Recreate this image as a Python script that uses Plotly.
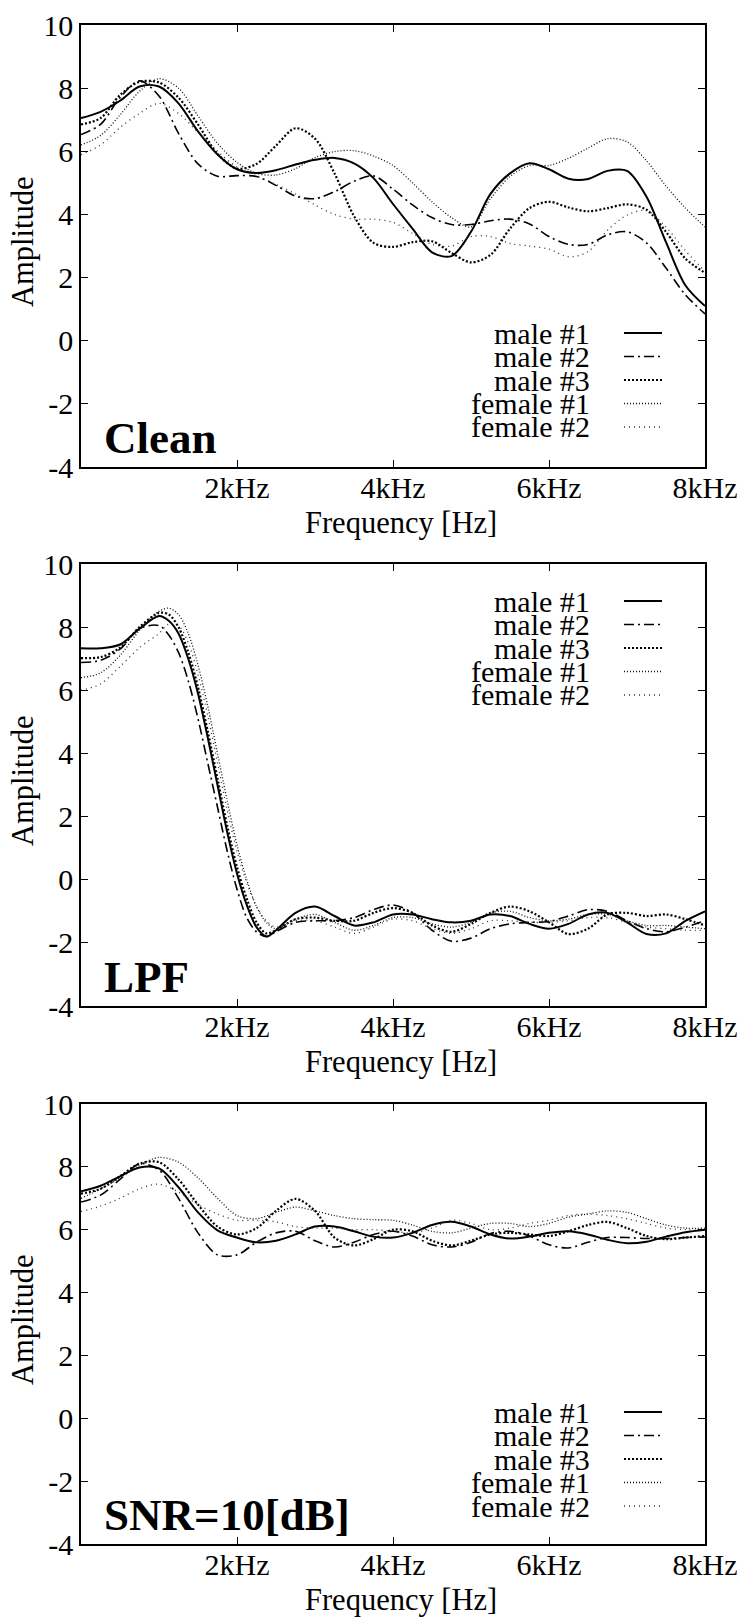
import plotly.graph_objects as go

# ---------------- data ----------------
FREQ = [0, 250, 500, 750, 1000, 1250, 1500, 1750, 2000, 2250, 2500, 2750, 3000, 3250,
        3500, 3750, 4000, 4250, 4500, 4750, 5000, 5250, 5500, 5750, 6000, 6250, 6500,
        6750, 7000, 7250, 7500, 7750, 8000]
FREQ_LPF = [0, 250, 500, 750, 1000, 1125, 1250, 1375, 1500, 1625, 1750, 1875, 2000, 2125,
            2250, 2375, 2500, 2750, 3000, 3250, 3500, 3750, 4000, 4250, 4500, 4750, 5000,
            5250, 5500, 5750, 6000, 6250, 6500, 6750, 7000, 7250, 7500, 7750, 8000]

SERIES = ["male #1", "male #2", "male #3", "female #1", "female #2"]

# Clean
CLEAN_MALE1 = [7.05, 7.25, 7.6, 8.05, 8.05, 7.52, 6.63, 5.9, 5.43, 5.31, 5.4, 5.58, 5.73, 5.79,
               5.62, 5.15, 4.33, 3.55, 2.8, 2.68, 3.45, 4.65, 5.3, 5.62, 5.43, 5.13, 5.12,
               5.38, 5.38, 4.56, 3.12, 1.75, 1.1]
CLEAN_MALE2 = [6.53, 6.85, 7.7, 8.23, 7.75, 6.57, 5.6, 5.21, 5.23, 5.2, 4.92, 4.58, 4.5, 4.72,
               5.05, 5.22, 4.8, 4.3, 3.9, 3.68, 3.68, 3.8, 3.85, 3.7, 3.3, 3.05, 3.05,
               3.35, 3.45, 3.1, 2.3, 1.45, 0.85]
CLEAN_MALE3 = [6.85, 7.05, 7.78, 8.2, 8.18, 7.7, 6.85, 5.92, 5.45, 5.6, 6.18, 6.73, 6.4, 5.3,
               3.95, 3.1, 2.97, 3.12, 3.15, 2.78, 2.48, 2.72, 3.55, 4.2, 4.4, 4.22, 4.1,
               4.2, 4.32, 4.15, 3.45, 2.6, 2.15]
CLEAN_FEMALE1 = [6.2, 6.5, 7.15, 7.9, 8.3, 8.0, 7.12, 6.25, 5.65, 5.3, 5.25, 5.45, 5.8, 5.99,
                 6.02, 5.85, 5.55, 5.0, 4.4, 3.9, 3.6, 4.5, 5.2, 5.55, 5.55, 5.78, 6.1,
                 6.4, 6.3, 5.7, 4.9, 4.2, 3.6]
CLEAN_FEMALE2 = [5.89, 6.2, 6.75, 7.2, 7.52, 7.2, 6.6, 6.0, 5.5, 5.22, 4.95, 4.65, 4.3, 4.0,
                 3.85, 3.85, 3.75, 3.4, 3.05, 3.0, 3.3, 3.3, 3.08, 3.0, 2.9, 2.66, 2.82,
                 3.5, 3.98, 4.12, 3.6, 2.85, 2.2]

# LPF
LPF_MALE1 = [7.33, 7.33, 7.45, 7.95, 8.35, 8.2, 7.8, 7.0, 5.9, 4.5, 3.0, 1.5, 0.2, -0.8,
             -1.5, -1.8, -1.6, -1.05, -0.85, -1.15, -1.45, -1.35, -1.1, -1.1, -1.25, -1.35,
             -1.3, -1.1, -1.15, -1.4, -1.55, -1.4, -1.1, -1.05, -1.35, -1.72, -1.7, -1.3, -1.0]
LPF_MALE2 = [6.88, 6.95, 7.3, 7.95, 8.05, 7.75, 7.2, 6.3, 5.1, 3.7, 2.3, 0.9, -0.3, -1.2,
             -1.65, -1.8, -1.65, -1.35, -1.3, -1.3, -1.2, -0.95, -0.8, -1.05, -1.6, -1.95,
             -1.85, -1.55, -1.4, -1.35, -1.32, -1.15, -0.95, -1.0, -1.3, -1.55, -1.65, -1.5, -1.3]
LPF_MALE3 = [7.02, 7.05, 7.35, 8.0, 8.45, 8.4, 8.0, 7.2, 6.1, 4.7, 3.2, 1.7, 0.4, -0.6,
             -1.35, -1.7, -1.6, -1.25, -1.2, -1.3, -1.3, -1.05, -0.9, -1.05, -1.45, -1.65,
             -1.4, -1.05, -0.85, -1.0, -1.35, -1.72, -1.55, -1.1, -1.05, -1.15, -1.1, -1.25, -1.45]
LPF_FEMALE1 = [6.4, 6.55, 7.1, 7.9, 8.5, 8.6, 8.4, 7.8, 6.8, 5.5, 4.0, 2.5, 1.1, 0.0,
               -0.85, -1.35, -1.55, -1.25, -1.1, -1.35, -1.6, -1.45, -1.2, -1.2, -1.4, -1.5,
               -1.35, -1.05, -1.0, -1.2, -1.3, -1.25, -1.1, -1.1, -1.3, -1.45, -1.45, -1.5, -1.55]
LPF_FEMALE2 = [6.0, 6.2, 6.75, 7.35, 7.8, 8.1, 8.05, 7.5, 6.5, 5.2, 3.7, 2.2, 0.9, -0.1,
               -0.85, -1.3, -1.5, -1.3, -1.3, -1.5, -1.7, -1.5, -1.25, -1.3, -1.55, -1.7,
               -1.55, -1.3, -1.3, -1.35, -1.35, -1.3, -1.2, -1.2, -1.35, -1.5, -1.55, -1.6, -1.6]

# SNR = 10 dB
SNR_MALE1 = [7.22, 7.4, 7.7, 7.98, 7.95, 7.35, 6.55, 5.98, 5.75, 5.6, 5.65, 5.85, 6.1, 6.1,
             5.95, 5.78, 5.75, 5.9, 6.15, 6.25, 6.1, 5.85, 5.72, 5.78, 5.9, 5.95, 5.85,
             5.68, 5.57, 5.62, 5.78, 5.92, 6.0]
SNR_MALE2 = [6.88, 7.1, 7.6, 8.1, 7.9, 7.0, 5.9, 5.2, 5.2, 5.6, 5.9, 5.95, 5.65, 5.45,
             5.6, 5.85, 5.95, 5.8, 5.52, 5.45, 5.6, 5.88, 5.95, 5.8, 5.52, 5.42, 5.6,
             5.75, 5.75, 5.72, 5.72, 5.75, 5.77]
SNR_MALE3 = [7.15, 7.3, 7.7, 8.1, 8.15, 7.6, 6.8, 6.1, 5.85, 6.05, 6.6, 6.98, 6.6, 5.75,
             5.5, 5.7, 6.0, 5.95, 5.65, 5.5, 5.65, 5.85, 5.9, 5.85, 5.8, 5.95, 6.15,
             6.25, 6.05, 5.8, 5.7, 5.75, 5.8]
SNR_FEMALE1 = [7.0, 7.3, 7.65, 8.05, 8.3, 8.15, 7.65, 7.0, 6.45, 6.35, 6.55, 6.72, 6.6, 6.45,
               6.35, 6.32, 6.3, 6.15, 5.95, 5.9, 6.05, 6.2, 6.2, 6.1, 6.2, 6.4, 6.5,
               6.6, 6.55, 6.35, 6.15, 6.05, 6.05]
SNR_FEMALE2 = [6.58, 6.75, 7.0, 7.3, 7.45, 7.2, 6.8, 6.5, 6.3, 6.3, 6.25, 6.1, 6.05, 6.05,
               6.0, 6.0, 5.95, 5.9, 6.05, 6.3, 6.2, 6.0, 6.05, 6.2, 6.3, 6.45, 6.5,
               6.45, 6.35, 6.2, 6.05, 6.0, 6.0]

PANEL_LABELS = ["Clean", "LPF", "SNR=10[dB]"]
X_TICKS = [2000, 4000, 6000, 8000]
X_TICK_TEXT = ["2kHz", "4kHz", "6kHz", "8kHz"]
Y_TICKS = [-4, -2, 0, 2, 4, 6, 8, 10]
Y_TICK_TEXT = ["-4", "-2", "0", "2", "4", "6", "8", "10"]
X_TITLE = "Frequency [Hz]"
Y_TITLE = "Amplitude"

PANELS = [
    (FREQ, [CLEAN_MALE1, CLEAN_MALE2, CLEAN_MALE3, CLEAN_FEMALE1, CLEAN_FEMALE2]),
    (FREQ_LPF, [LPF_MALE1, LPF_MALE2, LPF_MALE3, LPF_FEMALE1, LPF_FEMALE2]),
    (FREQ, [SNR_MALE1, SNR_MALE2, SNR_MALE3, SNR_FEMALE1, SNR_FEMALE2]),
]

# ---------------- styling / layout ----------------
W, H = 743, 1618
FONT = "Liberation Serif, serif"
X_LEFT, X_RIGHT = 81, 705
PANEL_PIX = [(25, 467), (564, 1006), (1104, 1544)]   # top, bottom (pixels)
LEGEND_FIRST = [308, 37, 308]                        # first legend row below panel top
ROW_STEP = 23.5

STYLES = [
    dict(color="black", width=2.0, dash="solid"),
    dict(color="black", width=1.6, dash="10px,4px,2px,4px"),
    dict(color="black", width=2.2, dash="2px,2px"),
    dict(color="#111111", width=1.3, dash="1px,2px"),
    dict(color="#333333", width=1.3, dash="1px,4px"),
]


def pxx(p):
    return p / W


def pyy(p):
    return 1 - p / H


fig = go.Figure()
annotations = []
shapes = []
layout_axes = {}
TICKFONT = dict(family=FONT, size=30, color="black")

for i, ((freq, series), (top, bot)) in enumerate(zip(PANELS, PANEL_PIX)):
    n = i + 1
    xa = "x" if n == 1 else f"x{n}"
    ya = "y" if n == 1 else f"y{n}"
    for name, vals, st in zip(SERIES, series, STYLES):
        fig.add_trace(go.Scatter(
            x=freq, y=vals, mode="lines", name=name, showlegend=False,
            line=dict(color=st["color"], width=st["width"], dash=st["dash"],
                      shape="spline", smoothing=0.9),
            xaxis=xa, yaxis=ya,
        ))
    common = dict(showgrid=False, zeroline=False, showline=True, linecolor="black",
                  linewidth=1.5, mirror="ticks", ticks="inside", ticklen=7,
                  tickwidth=1.2, tickcolor="black", automargin=False)
    layout_axes["xaxis" if n == 1 else f"xaxis{n}"] = dict(
        domain=[pxx(X_LEFT), pxx(X_RIGHT)], range=[0, 8000], anchor=ya,
        tickmode="array", tickvals=X_TICKS, ticktext=X_TICK_TEXT,
        tickfont=TICKFONT, ticklabelstandoff=-7, **common)
    layout_axes["yaxis" if n == 1 else f"yaxis{n}"] = dict(
        domain=[pyy(bot), pyy(top)], range=[-4, 10], anchor=xa,
        tickmode="array", tickvals=Y_TICKS, ticktext=Y_TICK_TEXT,
        tickfont=TICKFONT, **common)

    # axis titles
    annotations.append(dict(text=X_TITLE, xref="paper", yref="paper",
                            x=pxx(401), y=pyy(bot + 56), xanchor="center", yanchor="middle",
                            showarrow=False, font=dict(family=FONT, size=30.5, color="black")))
    annotations.append(dict(text=Y_TITLE, xref="paper", yref="paper", textangle=-90,
                            x=pxx(23), y=pyy((top + bot) / 2 - 4), xanchor="center",
                            yanchor="middle", showarrow=False,
                            font=dict(family=FONT, size=30.5, color="black")))
    # panel label
    annotations.append(dict(text=f"<b>{PANEL_LABELS[i]}</b>", xref="paper", yref="paper",
                            x=pxx(102), y=pyy(bot - 29), xanchor="left", yanchor="middle",
                            showarrow=False, font=dict(family=FONT, size=45, color="black")))
    # legend (text left, sample right)
    for k, (name, st) in enumerate(zip(SERIES, STYLES)):
        ry = top + LEGEND_FIRST[i] + k * ROW_STEP
        annotations.append(dict(text=name, xref="paper", yref="paper",
                                x=pxx(592), y=pyy(ry), xanchor="right", yanchor="middle",
                                showarrow=False, font=dict(family=FONT, size=30, color="black")))
        shapes.append(dict(type="line", xref="paper", yref="paper",
                           x0=pxx(624), x1=pxx(662), y0=pyy(ry), y1=pyy(ry),
                           line=dict(color=st["color"], width=st["width"], dash=st["dash"])))

fig.update_layout(
    template="none",
    width=W, height=H, autosize=False,
    margin=dict(l=0, r=0, t=0, b=0, pad=0),
    paper_bgcolor="white", plot_bgcolor="white",
    font=dict(family=FONT, size=30, color="black"),
    showlegend=False,
    annotations=annotations, shapes=shapes,
    **layout_axes,
)

fig.write_html("out.html")
